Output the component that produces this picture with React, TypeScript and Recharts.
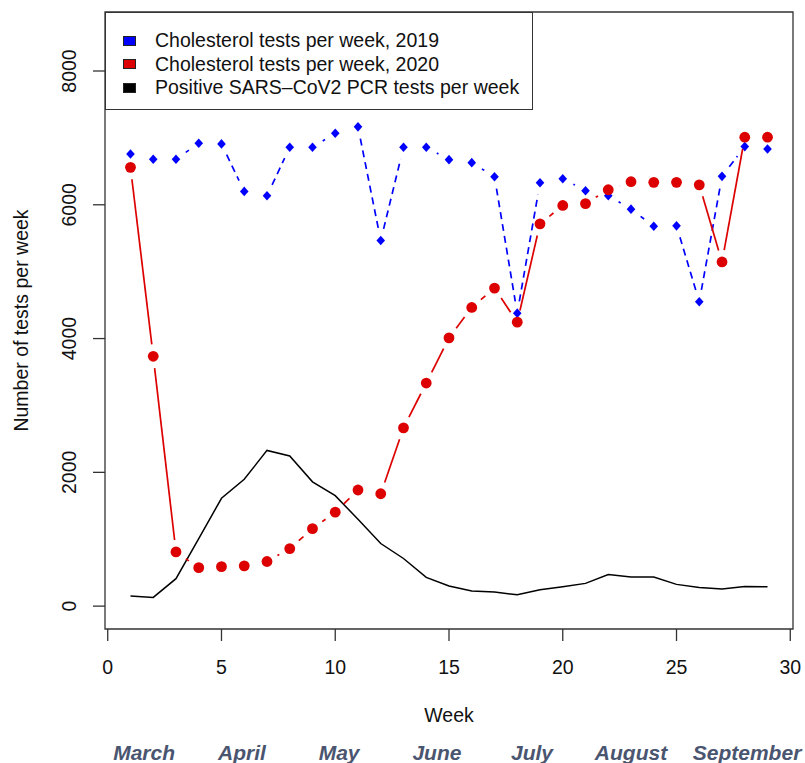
import React from 'react';
import { LineChart, Line, XAxis, YAxis, ReferenceArea, Legend } from 'recharts';

// weekly counts
const weeks = [1, 2, 3, 4, 5, 6, 7, 8, 9, 10, 11, 12, 13, 14, 15, 16, 17, 18, 19, 20, 21, 22, 23, 24, 25, 26, 27, 28, 29];
const chol2019 = [6760, 6680, 6680, 6920, 6910, 6200, 6135, 6860, 6860, 7070, 7165, 5465, 6860, 6860, 6675, 6630, 6420, 4380, 6330, 6390, 6210, 6135, 5935, 5680, 5685, 4550, 6425, 6870, 6835];
const chol2020 = [6560, 3735, 810, 575, 590, 602, 667, 860, 1158, 1405, 1736, 1680, 2665, 3335, 4010, 4465, 4755, 4245, 5715, 5990, 6018, 6225, 6345, 6335, 6335, 6298, 5145, 7010, 7010];
const sarsPositive = [150, 130, 410, 1008, 1612, 1896, 2328, 2244, 1858, 1652, 1298, 936, 712, 430, 300, 225, 210, 170, 245, 290, 340, 473, 435, 435, 325, 280, 255, 295, 290];

const xTicks = [0, 5, 10, 15, 20, 25, 30];
const yTicks = [0, 2000, 4000, 6000, 8000];
const months = ['March', 'April', 'May', 'June', 'July', 'August', 'September'];
const monthWeeks = [1.6, 5.9, 10.17, 14.47, 18.65, 23.0, 28.1];

const legendLabels = [
  'Cholesterol tests per week, 2019',
  'Cholesterol tests per week, 2020',
  'Positive SARS\u2013CoV2 PCR tests per week',
];
const legendColors = ['#0000ff', '#dd0000', '#000000'];

const data = weeks.map((w, i) => ({
  week: w,
  y2019: chol2019[i],
  y2020: chol2020[i],
  sars: sarsPositive[i],
}));

const FONT = '"Liberation Sans", Arial, Helvetica, sans-serif';
const AXIS = '#333';
const GAP = 12;

// R type="b": markers with the joining segments cut back near each point
const makeDot = (color: string, kind: 'circle' | 'diamond', dash?: string) => (props: any) => {
  const { cx, cy, index, points } = props;
  if (cx == null || cy == null) return <g key={`d-${index}`} />;
  const next = points && points[index + 1];
  let seg = null;
  if (next) {
    const dx = next.x - cx;
    const dy = next.y - cy;
    const len = Math.hypot(dx, dy);
    if (len > 2 * GAP) {
      const ux = dx / len;
      const uy = dy / len;
      seg = (
        <line
          x1={cx + ux * GAP}
          y1={cy + uy * GAP}
          x2={next.x - ux * GAP}
          y2={next.y - uy * GAP}
          stroke={color}
          strokeWidth={1.7}
          strokeDasharray={dash}
        />
      );
    }
  }
  const marker =
    kind === 'circle' ? (
      <circle cx={cx} cy={cy} r={5.4} fill={color} />
    ) : (
      <polygon
        points={`${cx},${cy - 4.8} ${cx + 4.3},${cy} ${cx},${cy + 4.8} ${cx - 4.3},${cy}`}
        fill={color}
      />
    );
  return (
    <g key={`d-${index}`}>
      {seg}
      {marker}
    </g>
  );
};

const XTick = ({ x, y, payload }: any) => (
  <text x={x} y={y + 33} textAnchor="middle" fontSize={19.5} fontFamily={FONT} fill="#111">
    {payload.value}
  </text>
);

const YTick = ({ x, y, payload }: any) => {
  const cx = x - 24;
  return (
    <text
      x={cx}
      y={y}
      dy="0.36em"
      transform={`rotate(-90 ${cx} ${y})`}
      textAnchor="middle"
      fontSize={19.5}
      fontFamily={FONT}
      fill="#111"
    >
      {payload.value}
    </text>
  );
};

const MonthTick = ({ x, y, payload, index }: any) => (
  <text
    x={x}
    y={y + 31}
    textAnchor="middle"
    fontSize={21}
    fontWeight="bold"
    fontStyle="italic"
    fontFamily={FONT}
    fill="#4a5570"
  >
    {months[index] ?? payload.value}
  </text>
);

const LegendBox = () => (
  <div
    style={{
      background: '#fff',
      border: `1.3px solid ${AXIS}`,
      boxSizing: 'border-box',
      width: 428,
      height: 98,
      paddingTop: 16,
      fontFamily: FONT,
      fontSize: 19.5,
      color: '#111',
    }}
  >
    {legendLabels.map((label, i) => (
      <div key={label} style={{ display: 'flex', alignItems: 'center', height: 23.5 }}>
        <span
          style={{
            display: 'inline-block',
            width: 13,
            height: 10,
            marginLeft: 17,
            marginRight: 19,
            background: legendColors[i],
            border: '1px solid #222',
            boxSizing: 'border-box',
          }}
        />
        <span style={{ whiteSpace: 'nowrap' }}>{label}</span>
      </div>
    ))}
  </div>
);

export default function App() {
  return (
    <div style={{ position: 'absolute', left: 0, top: 0, width: 805, height: 763, background: '#fff' }}>
      <LineChart width={805} height={763} data={data} margin={{ top: 12, right: 12, left: 0, bottom: 0 }}>
        <XAxis
          dataKey="week"
          type="number"
          domain={[-0.12, 30.12]}
          ticks={xTicks}
          allowDataOverflow
          height={100}
          tickSize={12}
          tickMargin={0}
          axisLine={false}
          tickLine={{ stroke: AXIS, strokeWidth: 1.3 }}
          tick={<XTick />}
          label={({ viewBox }: any) => (
            <text
              x={(viewBox?.x ?? 105) + (viewBox?.width ?? 688) / 2}
              y={(viewBox?.y ?? 629) + 93}
              textAnchor="middle"
              fontSize={19.5}
              fontFamily={FONT}
              fill="#111"
            >
              Week
            </text>
          )}
        />
        <XAxis
          xAxisId="months"
          dataKey="week"
          type="number"
          domain={[-0.12, 30.12]}
          ticks={monthWeeks}
          allowDataOverflow
          height={34}
          tickSize={0}
          tickMargin={0}
          axisLine={false}
          tickLine={false}
          tick={<MonthTick />}
        />
        <YAxis
          type="number"
          domain={[-342, 8882]}
          ticks={yTicks}
          allowDataOverflow
          width={105}
          tickSize={12}
          tickMargin={0}
          axisLine={false}
          tickLine={{ stroke: AXIS, strokeWidth: 1.3 }}
          tick={<YTick />}
          label={({ viewBox }: any) => {
            const cy = (viewBox?.y ?? 12) + (viewBox?.height ?? 617) / 2;
            return (
              <text
                x={21}
                y={cy}
                dy="0.36em"
                transform={`rotate(-90 21 ${cy})`}
                textAnchor="middle"
                fontSize={19.5}
                fontFamily={FONT}
                fill="#111"
              >
                Number of tests per week
              </text>
            );
          }}
        />
        <ReferenceArea
          x1={-0.12}
          x2={30.12}
          y1={-342}
          y2={8882}
          fill="none"
          fillOpacity={0}
          stroke={AXIS}
          strokeWidth={1.3}
          ifOverflow="visible"
        />
        <Line
          dataKey="y2019"
          stroke="none"
          dot={makeDot('#0000ff', 'diamond', '7 5')}
          activeDot={false}
          isAnimationActive={false}
        />
        <Line
          dataKey="y2020"
          stroke="none"
          dot={makeDot('#dd0000', 'circle')}
          activeDot={false}
          isAnimationActive={false}
        />
        <Line
          dataKey="sars"
          stroke="#000"
          strokeWidth={1.5}
          dot={false}
          activeDot={false}
          isAnimationActive={false}
        />
        <Legend
          layout="horizontal"
          verticalAlign="middle"
          align="center"
          wrapperStyle={{ left: 105, top: 12, width: 428, height: 98 }}
          content={<LegendBox />}
        />
      </LineChart>
    </div>
  );
}
